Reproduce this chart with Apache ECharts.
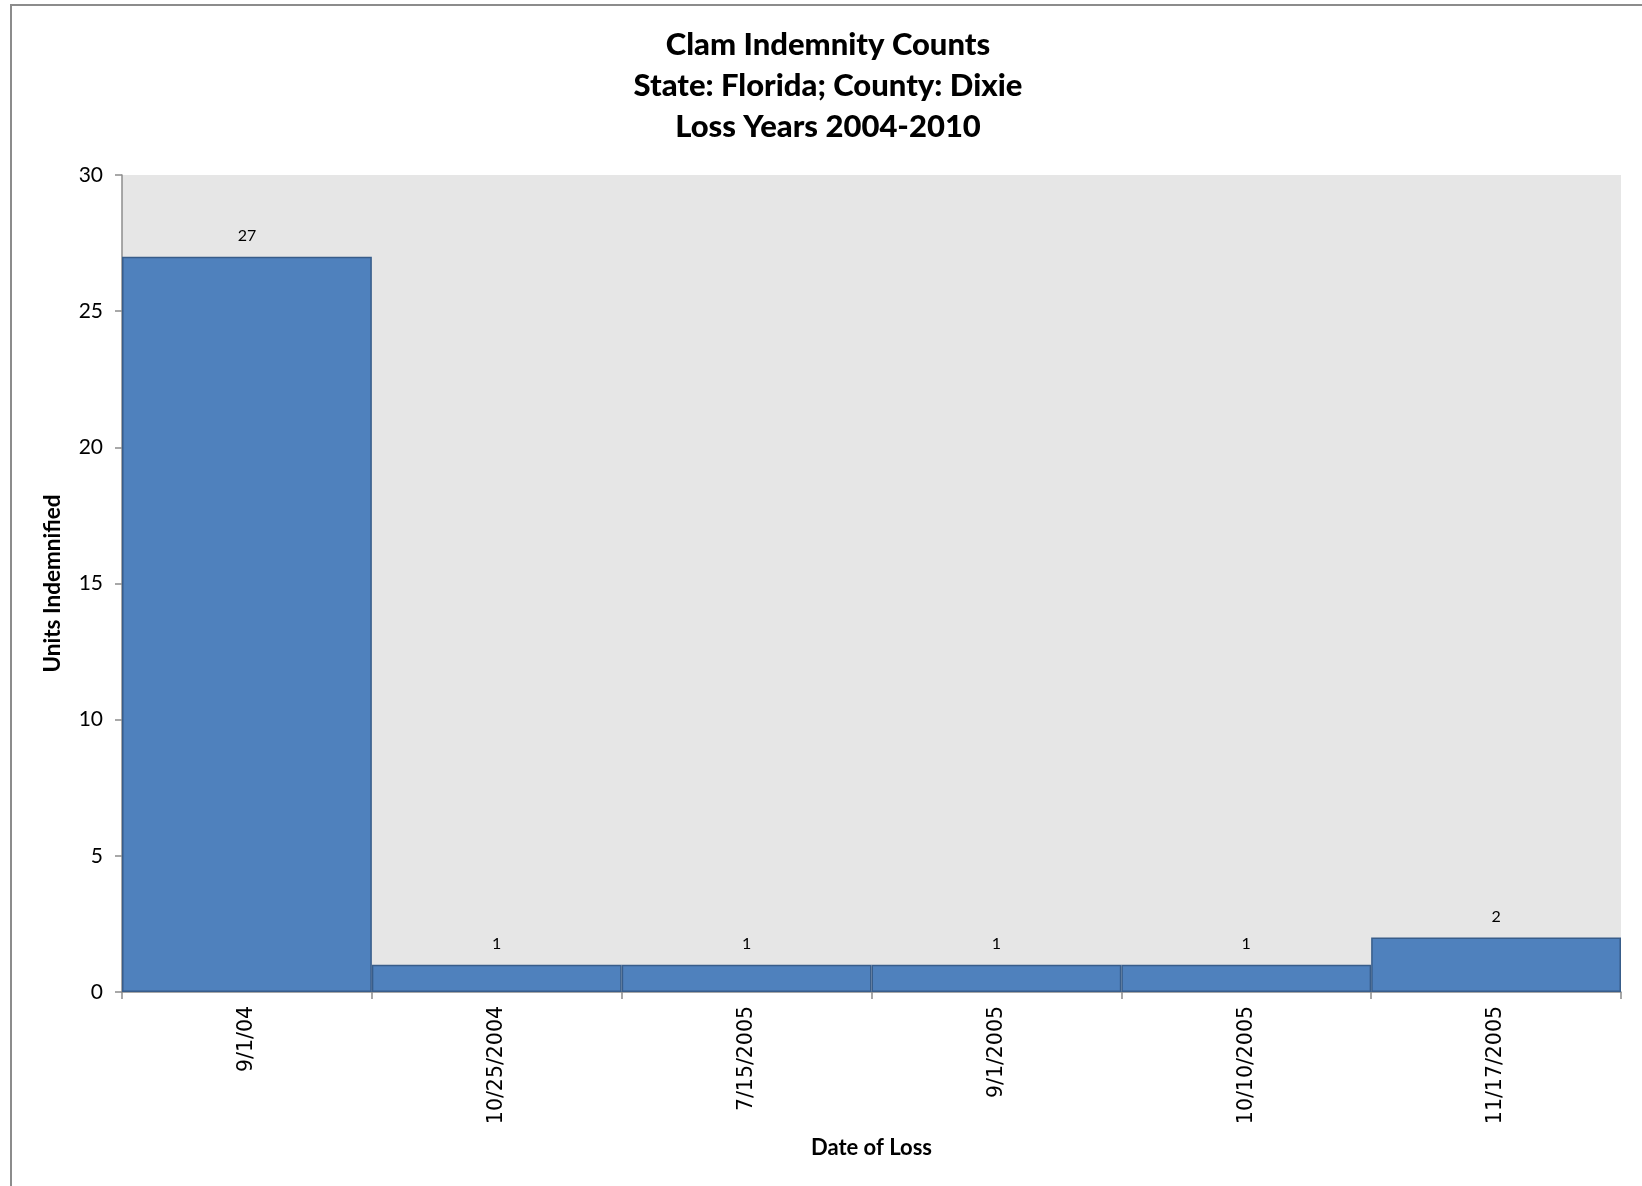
<!DOCTYPE html>
<html><head><meta charset="utf-8">
<script src="https://cdn.jsdelivr.net/npm/echarts@6/dist/echarts.min.js"></script>
<style>
html,body{margin:0;padding:0;background:#fff;overflow:hidden}
#frame{position:absolute;left:10px;top:4px;width:1650px;height:1200px;border:2px solid #8c8c8c;box-sizing:border-box}
#c{position:absolute;left:0;top:0;width:1642px;height:1186px}
</style></head>
<body><div id="frame"></div><div id="c"></div>
<script>
const categories = ['9/1/04','10/25/2004','7/15/2005','9/1/2005','10/10/2005','11/17/2005'];
const unitsIndemnified = [27,1,1,1,1,2];
const titleLines = ['Clam Indemnity Counts','State: Florida; County: Dixie','Loss Years 2004-2010'];

const chart = echarts.init(document.getElementById('c'), null, {renderer:'canvas'});
chart.setOption({
  backgroundColor:'transparent',
  animation:false,
  title:{
    text:titleLines.join('\n'),
    left:823, top:19, textAlign:'center',
    textStyle:{fontFamily:'Lato',fontWeight:900,fontSize:31,lineHeight:41,color:'#000'}
  },
  grid:{left:122, right:21, top:175, bottom:194, show:true, backgroundColor:'#e6e6e6', borderWidth:0, containLabel:false},
  xAxis:{
    type:'category', data:categories,
    name:'Date of Loss', nameLocation:'middle', nameGap:145,
    nameTextStyle:{fontFamily:'Lato',fontWeight:'bold',fontSize:22,color:'#000'},
    axisLine:{lineStyle:{color:'#8c8c8c',width:1.5}},
    axisTick:{show:true,length:7,alignWithLabel:false,lineStyle:{color:'#8c8c8c',width:1.5}},
    axisLabel:{rotate:90,margin:14,fontFamily:'DejaVu Sans',fontSize:20.5,color:'#000'}
  },
  yAxis:{
    type:'value', min:0, max:30, interval:5,
    name:'Units Indemnified', nameLocation:'middle', nameGap:58, nameRotate:90,
    nameTextStyle:{fontFamily:'Lato',fontWeight:'bold',fontSize:22.5,color:'#000'},
    axisLine:{show:true,lineStyle:{color:'#8c8c8c',width:1.5}},
    axisTick:{show:true,length:7,lineStyle:{color:'#8c8c8c',width:1.5}},
    axisLabel:{margin:19,fontFamily:'Lato',fontSize:21,color:'#000'},
    splitLine:{show:false}
  },
  series:[{
    type:'bar', data:unitsIndemnified, barCategoryGap:'0%',
    itemStyle:{color:'#4f81bd',borderColor:'#385d8a',borderWidth:1.5},
    label:{show:true,position:'top',distance:13,fontFamily:'Lato',fontSize:16,color:'#000'}
  }]
});
</script></body></html>
